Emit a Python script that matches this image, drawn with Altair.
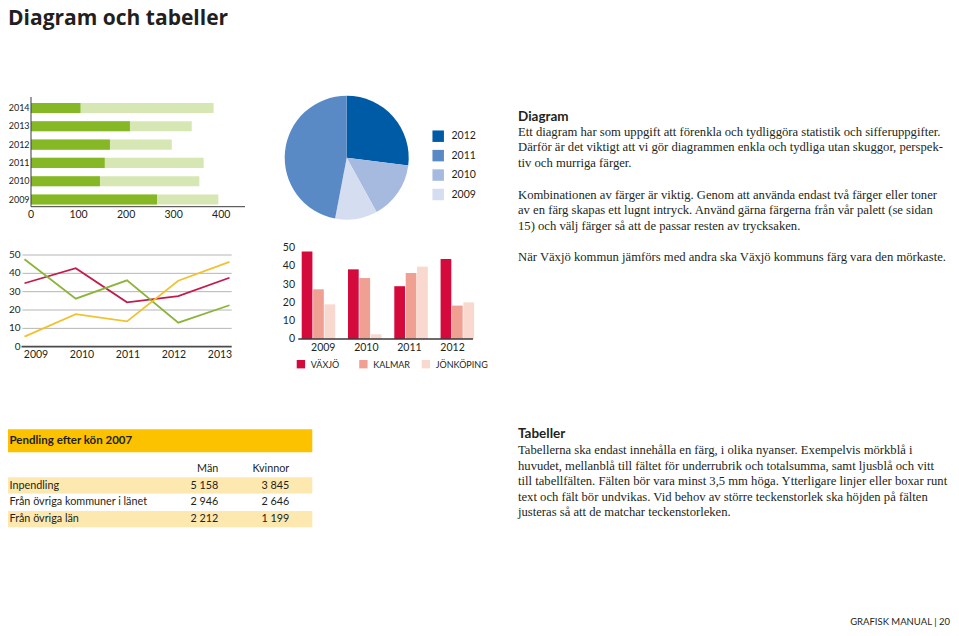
import altair as alt
import pandas as pd

# ---------------- data ----------------
page_title = "Diagram och tabeller"
footer_text = "GRAFISK MANUAL | 20"

hbar_years = ["2014", "2013", "2012", "2011", "2010", "2009"]
hbar_dark = [104, 208, 166, 155, 145, 265]
hbar_total = [384, 338, 296, 363, 354, 394]
hbar_ticks = [0, 100, 200, 300, 400]

line_years = ["2009", "2010", "2011", "2012", "2013"]
line_red = [34.6, 42.8, 24.2, 27.6, 37.6]
line_green = [47.7, 26.2, 36.2, 13.1, 22.6]
line_yellow = [5.5, 17.8, 13.8, 36.0, 46.2]
line_ticks = [0, 10, 20, 30, 40, 50]

pie_years = ["2012", "2010", "2009", "2011"]  # clockwise from 12 o'clock
pie_values = [27, 15, 11, 47]
pie_legend = ["2012", "2011", "2010", "2009"]

gb_years = ["2009", "2010", "2011", "2012"]
gb_cities = ["Växjö", "Kalmar", "Jönköping"]
gb_vaxjo = [48.2, 38.4, 29.1, 44.1]
gb_kalmar = [27.4, 33.6, 36.4, 18.4]
gb_jonkoping = [19.1, 2.6, 39.9, 20.2]
gb_legend = ["VÄXJÖ", "KALMAR", "JÖNKÖPING"]
gb_ticks = [0, 10, 20, 30, 40, 50]

table_title = "Pendling efter kön 2007"
table_cols = ["Män", "Kvinnor"]
table_rows = ["Inpendling", "Från övriga kommuner i länet", "Från övriga län"]
table_man = ["5 158", "2 946", "2 212"]
table_kvinnor = ["3 845", "2 646", "1 199"]

diagram_head = "Diagram"
diagram_lines = [
    "Ett diagram har som uppgift att förenkla och tydliggöra statistik och sifferuppgifter.",
    "Därför är det viktigt att vi gör diagrammen enkla och tydliga utan skuggor, perspek-",
    "tiv och murriga färger.",
    "",
    "Kombinationen av färger är viktig. Genom att använda endast två färger eller toner",
    "av en färg skapas ett lugnt intryck. Använd gärna färgerna från vår palett (se sidan",
    "15) och välj färger så att de passar resten av trycksaken.",
    "",
    "När Växjö kommun jämförs med andra ska Växjö kommuns färg vara den mörkaste.",
]
tabeller_head = "Tabeller"
tabeller_lines = [
    "Tabellerna ska endast innehålla en färg, i olika nyanser. Exempelvis mörkblå i",
    "huvudet, mellanblå till fältet för underrubrik och totalsumma, samt ljusblå och vitt",
    "till tabellfälten. Fälten bör vara minst 3,5 mm höga. Ytterligare linjer eller boxar runt",
    "text och fält bör undvikas. Vid behov av större teckenstorlek ska höjden på fälten",
    "justeras så att de matchar teckenstorleken.",
]

# ---------------- styles ----------------
INK = "#231f20"
AXIS = "#3a3a3a"
SANS = "Lato"
SERIF = "Liberation Serif"
GREEN_DARK = "#86b825"
GREEN_LIGHT = "#d6e7b3"
LINE_COLORS = ["#c41a4b", "#8db43a", "#f2c12e"]
PIE_COLORS = ["#005ba6", "#5a8ac6", "#a6badf", "#d5ddf0"]
GB_COLORS = ["#d50a3c", "#f0a092", "#f9d8cf"]
TAB_HEAD = "#fcc200"
TAB_ROW = "#fde8b0"

M = 8  # page margin


def X(v):
    return v - M


def Y(v):
    return v - M


one = pd.DataFrame({"k": [0]})


def label(text, x, y, size, font=SANS, weight="normal", align="left", baseline="middle", color=INK):
    return alt.Chart(one).mark_text(
        text=text, align=align, baseline=baseline, font=font, fontSize=size,
        fontWeight=weight, color=color
    ).encode(x=alt.value(X(x)), y=alt.value(Y(y)))


def para(lines, x0, y0, step, size, font=SERIF):
    df = pd.DataFrame({"i": list(range(len(lines))), "t": lines})
    return alt.Chart(df).mark_text(
        align="left", baseline="middle", font=font, fontSize=size, color=INK
    ).encode(
        x=alt.value(X(x0)),
        y=alt.Y("i:Q", scale=alt.Scale(domain=[0, 1], range=[Y(y0), Y(y0 + step)], nice=False, zero=False), axis=None),
        text="t:N",
    )


def hrule(x1, x2, y, color=AXIS, width=1.0):
    return alt.Chart(one).mark_rule(color=color, strokeWidth=width).encode(
        x=alt.value(X(x1)), x2=alt.value(X(x2)), y=alt.value(Y(y)))


def vrule(x, y1, y2, color=AXIS, width=1.0):
    return alt.Chart(one).mark_rule(color=color, strokeWidth=width).encode(
        x=alt.value(X(x)), y=alt.value(Y(y1)), y2=alt.value(Y(y2)))


layers = []

# ---------------- title / footer ----------------
layers.append(label(page_title, 8, 24.5, 21, font="Open Sans", weight="bold", baseline="alphabetic"))
layers.append(label(footer_text, 950, 622, 9.5, align="right"))

# ---------------- horizontal bar chart ----------------
hb = pd.DataFrame({"year": hbar_years, "dark": hbar_dark, "total": hbar_total})
hx = alt.Scale(domain=[0, 450], range=[X(31), X(245)], nice=False)
hy = alt.Scale(domain=hbar_years, range=[Y(98.85), Y(208.65)], paddingInner=0.45, paddingOuter=0.225)
layers.append(alt.Chart(hb).mark_bar(color=GREEN_LIGHT).encode(
    x=alt.X("total:Q", scale=hx, axis=None), y=alt.Y("year:N", scale=hy, axis=None)))
layers.append(alt.Chart(hb).mark_bar(color=GREEN_DARK).encode(
    x=alt.X("dark:Q", scale=hx, axis=None), y=alt.Y("year:N", scale=hy, axis=None)))
layers.append(alt.Chart(hb).mark_text(align="right", baseline="middle", font=SANS, fontSize=9, color=INK).encode(
    x=alt.value(X(29.6)), y=alt.Y("year:N", scale=hy, axis=None), text="year:N"))
layers.append(vrule(31, 97, 206.7))
layers.append(hrule(31, 245, 206.7))
ht = pd.DataFrame({"v": hbar_ticks})
layers.append(alt.Chart(ht).mark_text(align="center", baseline="middle", font=SANS, fontSize=10.5, color=INK).encode(
    x=alt.X("v:Q", scale=hx, axis=None), y=alt.value(Y(215)), text="v:Q"))

# ---------------- line chart ----------------
ld = pd.DataFrame({
    "year": line_years * 3,
    "series": ["red"] * 5 + ["green"] * 5 + ["yellow"] * 5,
    "v": line_red + line_green + line_yellow,
})
lx = alt.Scale(domain=line_years, range=[X(24.5), X(229.5)], padding=0)
lxl = alt.Scale(domain=line_years, range=[X(36), X(220)], padding=0)
ly = alt.Scale(domain=[0, 50], range=[Y(346.7), Y(255)], nice=False)
lt = pd.DataFrame({"v": line_ticks})
layers.append(alt.Chart(lt[lt.v > 0]).mark_rule(color="#b5b5b5", strokeWidth=1).encode(
    y=alt.Y("v:Q", scale=ly, axis=None), x=alt.value(X(22.5)), x2=alt.value(X(231.7))))
layers.append(hrule(21.5, 231.7, 346.7, color="#4a4a4a", width=1.8))
layers.append(alt.Chart(lt).mark_text(align="right", baseline="middle", font=SANS, fontSize=10, color=INK).encode(
    y=alt.Y("v:Q", scale=ly, axis=None), x=alt.value(X(20.5)), text="v:Q"))
layers.append(alt.Chart(ld).mark_line(strokeWidth=1.8).encode(
    x=alt.X("year:N", scale=lx, axis=None),
    y=alt.Y("v:Q", scale=ly, axis=None),
    color=alt.Color("series:N", scale=alt.Scale(domain=["red", "green", "yellow"], range=LINE_COLORS), legend=None)))
layers.append(alt.Chart(pd.DataFrame({"year": line_years})).mark_text(
    align="center", baseline="middle", font=SANS, fontSize=10.5, color=INK).encode(
    x=alt.X("year:N", scale=lxl, axis=None), y=alt.value(Y(355)), text="year:N"))

# ---------------- pie chart ----------------
pdf = pd.DataFrame({"year": pie_years, "v": pie_values, "o": list(range(len(pie_years)))})
layers.append(alt.Chart(pdf).mark_arc(radius=62).encode(
    theta=alt.Theta("v:Q", stack=True),
    order=alt.Order("o:Q"),
    color=alt.Color("year:N", scale=alt.Scale(domain=pie_legend, range=PIE_COLORS), legend=None),
    x=alt.value(X(346.7)), y=alt.value(Y(157.7))))
pl = pd.DataFrame({"year": pie_legend})
ply = alt.Scale(domain=pie_legend, range=[Y(136.2), Y(194.5)], padding=0)
layers.append(alt.Chart(pl).mark_square(size=132, opacity=1).encode(
    y=alt.Y("year:N", scale=ply, axis=None), x=alt.value(X(438.2)),
    color=alt.Color("year:N", scale=alt.Scale(domain=pie_legend, range=PIE_COLORS), legend=None)))
layers.append(alt.Chart(pl).mark_text(align="left", baseline="middle", font=SANS, fontSize=10.5, color=INK).encode(
    y=alt.Y("year:N", scale=ply, axis=None), x=alt.value(X(451.5)), text="year:N"))

# ---------------- grouped bar chart ----------------
gdf = pd.DataFrame({
    "year": gb_years * 3,
    "city": [gb_cities[0]] * 4 + [gb_cities[1]] * 4 + [gb_cities[2]] * 4,
    "v": gb_vaxjo + gb_kalmar + gb_jonkoping,
})
gx = alt.Scale(domain=gb_years, range=[X(301.7), X(474.1)], paddingInner=0.276, paddingOuter=0)
gy = alt.Scale(domain=[0, 50], range=[Y(339), Y(248.3)], nice=False)
gcol = alt.Scale(domain=gb_cities, range=GB_COLORS)
layers.append(alt.Chart(gdf).mark_bar().encode(
    x=alt.X("year:N", scale=gx, axis=None),
    xOffset=alt.XOffset("city:N", scale=alt.Scale(domain=gb_cities, paddingInner=0.06)),
    y=alt.Y("v:Q", scale=gy, axis=None),
    color=alt.Color("city:N", scale=gcol, legend=None)))
layers.append(hrule(298.3, 473, 339, width=1.5))
gt = pd.DataFrame({"v": gb_ticks})
layers.append(alt.Chart(gt).mark_text(align="right", baseline="middle", font=SANS, fontSize=10.5, color=INK).encode(
    y=alt.Y("v:Q", scale=gy, axis=None), x=alt.value(X(295)), text="v:Q"))
layers.append(alt.Chart(pd.DataFrame({"year": gb_years})).mark_text(
    align="center", baseline="middle", font=SANS, fontSize=10.5, color=INK).encode(
    x=alt.X("year:N", scale=gx, axis=None), y=alt.value(Y(348.3)), text="year:N"))
gl = pd.DataFrame({"lab": gb_legend, "city": gb_cities})
glx = alt.Scale(domain=gb_legend, range=[X(300.9), X(425.9)], padding=0)
layers.append(alt.Chart(gl).mark_square(size=70, opacity=1).encode(
    x=alt.X("lab:N", scale=glx, axis=None), y=alt.value(Y(364.2)),
    color=alt.Color("city:N", scale=gcol, legend=None)))
layers.append(alt.Chart(gl).mark_text(align="left", baseline="middle", font=SANS, fontSize=9, color=INK, dx=9.8).encode(
    x=alt.X("lab:N", scale=glx, axis=None), y=alt.value(Y(364.6)), text="lab:N"))

# ---------------- table ----------------
layers.append(alt.Chart(one).mark_rect(color=TAB_HEAD).encode(
    x=alt.value(X(8)), x2=alt.value(X(312.3)), y=alt.value(Y(429.3)), y2=alt.value(Y(452.3))))
layers.append(label(table_title, 9.5, 440.8, 11.5, weight="bold"))
layers.append(label(table_cols[0], 218.3, 469, 10.8, align="right"))
layers.append(label(table_cols[1], 289.3, 469, 10.8, align="right"))
tdf = pd.DataFrame({"i": list(range(len(table_rows))), "row": table_rows,
                    "man": table_man, "kv": table_kvinnor})
tdf["shade"] = tdf["i"] % 2 == 0
ty = alt.Scale(domain=list(range(len(table_rows))), range=[Y(477.3), Y(527.3)], paddingInner=0.04, paddingOuter=0)
layers.append(alt.Chart(tdf[tdf.shade]).mark_rect(color=TAB_ROW).encode(
    y=alt.Y("i:O", scale=ty, axis=None), x=alt.value(X(8)), x2=alt.value(X(312.3))))
layers.append(alt.Chart(tdf).mark_text(align="left", baseline="middle", font=SANS, fontSize=10.8, color=INK).encode(
    y=alt.Y("i:O", scale=ty, axis=None), x=alt.value(X(9.5)), text="row:N"))
layers.append(alt.Chart(tdf).mark_text(align="right", baseline="middle", font=SANS, fontSize=10.8, color=INK).encode(
    y=alt.Y("i:O", scale=ty, axis=None), x=alt.value(X(218.3)), text="man:N"))
layers.append(alt.Chart(tdf).mark_text(align="right", baseline="middle", font=SANS, fontSize=10.8, color=INK).encode(
    y=alt.Y("i:O", scale=ty, axis=None), x=alt.value(X(289.3)), text="kv:N"))

# ---------------- text blocks ----------------
layers.append(label(diagram_head, 518, 116.7, 13.5, weight="bold"))
layers.append(para(diagram_lines, 518, 131.7, 15.7, 12.65))
layers.append(label(tabeller_head, 518, 434, 13.5, weight="bold"))
layers.append(para(tabeller_lines, 518, 450, 15.5, 12.65))

chart = alt.layer(*layers).resolve_scale(
    x="independent", y="independent", color="independent", theta="independent", xOffset="independent"
).properties(
    width=943, height=620, autosize=alt.AutoSizeParams(type="none"), padding=0, background="white"
).configure_view(stroke=None)

chart.save("out.html", embed_options={"renderer": "svg", "actions": False})
